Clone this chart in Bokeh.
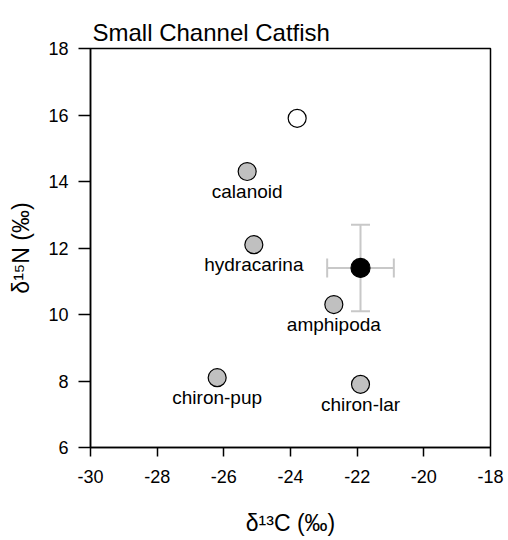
from bokeh.plotting import figure
from bokeh.models import Range1d, FixedTicker, ColumnDataSource, Whisker, TeeHead
from bokeh.core.properties import value
from bokeh.embed import file_html
from bokeh.resources import INLINE

# ---- data ----
prey_names = ["calanoid", "hydracarina", "amphipoda", "chiron-pup", "chiron-lar"]
prey_d13c = [-25.3, -25.1, -22.7, -26.2, -21.9]
prey_d15n = [14.3, 12.1, 10.3, 8.1, 7.9]

open_d13c = [-23.8]
open_d15n = [15.9]

fish_d13c = [-21.9]
fish_d15n = [11.4]
fish_sd_c = [1.0]
fish_sd_n = [1.3]

x_ticks = [-30, -28, -26, -24, -22, -20, -18]
y_ticks = [6, 8, 10, 12, 14, 16, 18]

FONT = "Liberation Sans"

p = figure(width=508, height=540, output_backend="svg", toolbar_location=None,
           x_range=Range1d(-30, -18), y_range=Range1d(6, 18),
           title="Small Channel Catfish")
p.min_border_left = 90
p.min_border_right = 18
p.min_border_top = 48
p.min_border_bottom = 93

p.title.text_font = FONT
p.title.text_font_size = "24px"
p.title.text_font_style = "normal"
p.title.text_color = "black"
p.title.align = "left"
p.title.offset = 2
p.title.standoff = 6

p.grid.visible = False
p.background_fill_color = "white"
p.border_fill_color = "white"
p.outline_line_color = "black"
p.outline_line_width = 1.5
p.outline_line_alpha = 1

p.xaxis.ticker = FixedTicker(ticks=x_ticks)
p.yaxis.ticker = FixedTicker(ticks=y_ticks)
p.xaxis.major_label_overrides = {t: str(t) for t in x_ticks}
p.yaxis.major_label_overrides = {t: str(t) for t in y_ticks}
for ax in (p.xaxis, p.yaxis):
    ax.axis_line_color = "black"
    ax.axis_line_width = 1.5
    ax.major_tick_line_color = "black"
    ax.major_tick_line_width = 1.5
    ax.major_tick_in = 0
    ax.minor_tick_line_color = None
    ax.major_label_text_font = FONT
    ax.major_label_text_font_size = "18px"
    ax.major_label_text_color = "black"
    ax.axis_label_text_font = FONT
    ax.axis_label_text_font_size = "23px"
    ax.axis_label_text_font_style = "normal"
    ax.axis_label_text_color = "black"

p.xaxis.major_tick_out = 9
p.yaxis.major_tick_out = 12
p.xaxis.major_label_standoff = 13
p.yaxis.major_label_standoff = 10
p.xaxis.axis_label = "δ¹³C (‰)"
p.yaxis.axis_label = "δ¹⁵N (‰)"
p.xaxis.axis_label_standoff = 24
p.yaxis.axis_label_standoff = 11

# prey points
prey_src = ColumnDataSource(dict(x=prey_d13c, y=prey_d15n, name=prey_names))
p.scatter("x", "y", source=prey_src, size=18, fill_color="#c0c0c0",
          line_color="black", line_width=1.2)
p.text("x", "y", text="name", source=prey_src, text_align="center",
       text_baseline="middle", y_offset=20, text_font=value(FONT),
       text_font_size="19px", text_color="black")

# open point
p.scatter(open_d13c, open_d15n, size=18, fill_color="white",
          line_color="black", line_width=1.2)

# consumer with error bars
fish_src = ColumnDataSource(dict(
    x=fish_d13c, y=fish_d15n,
    xl=[a - b for a, b in zip(fish_d13c, fish_sd_c)],
    xu=[a + b for a, b in zip(fish_d13c, fish_sd_c)],
    yl=[a - b for a, b in zip(fish_d15n, fish_sd_n)],
    yu=[a + b for a, b in zip(fish_d15n, fish_sd_n)],
))
ebc = "#c8c8c8"
wx = Whisker(source=fish_src, base="y", lower="xl", upper="xu", dimension="width",
             line_color=ebc, line_width=2,
             lower_head=TeeHead(size=19, line_color=ebc, line_width=2),
             upper_head=TeeHead(size=19, line_color=ebc, line_width=2))
wy = Whisker(source=fish_src, base="x", lower="yl", upper="yu", dimension="height",
             line_color=ebc, line_width=2,
             lower_head=TeeHead(size=19, line_color=ebc, line_width=2),
             upper_head=TeeHead(size=19, line_color=ebc, line_width=2))
wx.level = "underlay"
wy.level = "underlay"
p.add_layout(wx)
p.add_layout(wy)
p.scatter("x", "y", source=fish_src, size=19, fill_color="black",
          line_color="black", line_width=1.2)

open("out.html", "w").write(file_html(p, INLINE))
